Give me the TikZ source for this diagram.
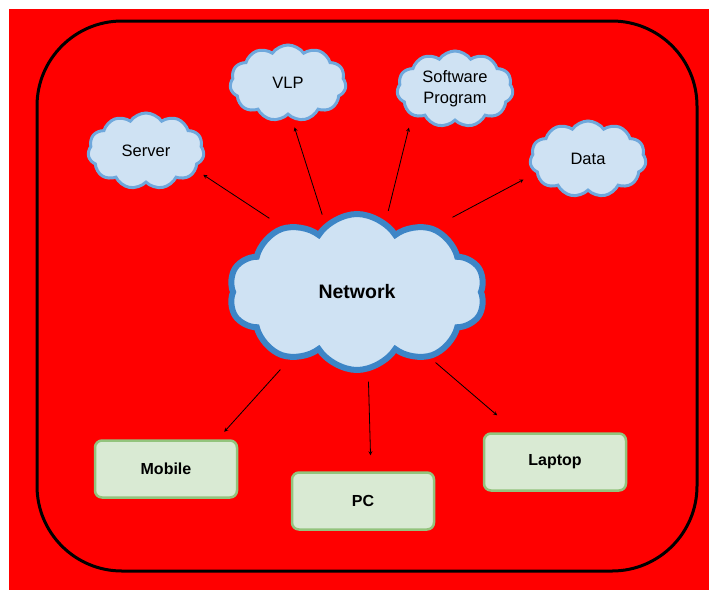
\documentclass[tikz,border=0pt]{standalone}
\usepackage{fontspec}
\setmainfont{Liberation Sans}
\usetikzlibrary{
    arrows,
    shapes.symbols
}
\definecolor{bgred}{HTML}{FF0000}
\definecolor{cloudfill}{HTML}{CFE2F3}
\definecolor{cloudline}{HTML}{3D85C6}
\definecolor{cloudedge}{HTML}{6FA8DC}
\definecolor{devfill}{HTML}{D9EAD3}
\definecolor{devline}{HTML}{93C47D}
\tikzset{
  every path/.style={
    line width=0.8pt
  },
  smallcloud/.style={
    cloud, cloud puffs=11, cloud puff arc=110, aspect=1.5,
    draw=cloudedge, fill=cloudfill, line width=3pt,
    minimum width=116pt, minimum height=76pt, inner sep=0pt,
    font=\fontsize{16.5}{21}\selectfont, align=center
  },
  bigcloud/.style={
    cloud, cloud puffs=10, cloud puff arc=115, aspect=1.6,
    draw=cloudline, fill=cloudfill, line width=6pt,
    minimum width=256pt, minimum height=156pt, inner sep=0pt,
    font=\fontsize{19.5}{23}\selectfont\bfseries
  },
  device/.style={
    draw=devline, fill=devfill, line width=2.5pt, rounded corners=7pt,
    minimum width=142pt, minimum height=57pt,
    font=\fontsize{16}{19}\selectfont\bfseries
  },
  link/.style={
    ->, >=stealth, line width=0.8pt
  }
}

\begin{document}
\begin{tikzpicture}[x=1pt,y=-1pt]

    \useasboundingbox (0,0) rectangle (709,590);
    \fill[bgred] (9,9) rectangle (709,590);
    \draw[line width=3pt, rounded corners=85pt] (37,21) rectangle (697,571);

    %-------------------------
    % 中央の雲
    %-------------------------
    \node[bigcloud] (net) at (357,292) {Network};

    %-------------------------
    % 上の雲
    %-------------------------
    \node[smallcloud] (srv) at (146,151) {Server};
    \node[smallcloud] (vlp) at (288,83) {VLP};
    \node[smallcloud] (sw)  at (455,89) {Software\\Program};
    \node[smallcloud] (dat) at (588,159) {Data};

    %-------------------------
    % 下の端末
    %-------------------------
    \node[device] (mob) at (166,469) {Mobile};
    \node[device] (pc)  at (363,501) {PC};
    \node[device] (lap) at (555,462) {Laptop};

    \draw[link, shorten <=14pt, shorten >=8pt] (net.139) -- (srv.-21);
    \draw[link, shorten <=9pt, shorten >=9pt] (net.115) -- (vlp.-84);
    \draw[link, shorten <=10pt, shorten >=12pt] (net.68) -- (sw.-148);
    \draw[link, shorten <=20pt, shorten >=14pt] (net.40) -- (dat.-165);
    \draw[link, shorten <=13pt, shorten >=10pt] (net.-135) -- (mob.30);
    \draw[link, shorten <=10pt, shorten >=16pt] (net.-82) -- (pc.75);
    \draw[link, shorten <=6pt, shorten >=26pt] (net.-42) -- (lap.142);

\end{tikzpicture}
\end{document}
